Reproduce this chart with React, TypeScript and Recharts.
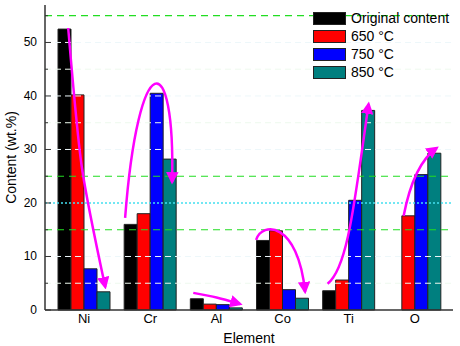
import React from 'react';
import { BarChart, Bar, XAxis, YAxis, ReferenceLine } from 'recharts';

const elements = ['Ni', 'Cr', 'Al', 'Co', 'Ti', 'O'];
const original = [52.5, 16.0, 2.1, 13.0, 3.6, 0];
const t650 = [40.2, 18.0, 1.1, 14.8, 5.6, 17.6];
const t750 = [7.7, 40.5, 1.0, 3.8, 20.5, 25.3];
const t850 = [3.4, 28.2, 0.4, 2.2, 37.3, 29.3];

const seriesNames = ['Original content', '650 °C', '750 °C', '850 °C'];
const seriesKeys = ['original', 't650', 't750', 't850'];
const seriesColors = ['#000000', '#ff0000', '#0000ff', '#007f7f'];

const yTicks = [0, 5, 10, 15, 20, 25, 30, 35, 40, 45, 50, 55];

// trend arrows, points as [category position, value]
const arrows = [
  [[-0.24, 52.7], [-0.06, 26.2], [-0.06, 26.2], [0.32, 4.3]],
  [[0.62, 17.2], [0.82, 49.5], [1.38, 49.5], [1.33, 23.9]],
  [[1.65, 3.2], [2.0, 2.4], [2.0, 2.4], [2.36, 1.1]],
  [[2.6, 13.1], [2.69, 16.6], [3.23, 16.6], [3.34, 3.4]],
  [[3.68, 4.9], [3.99, 7.9], [4.09, 20.6], [4.3, 38.5]],
  [[4.83, 17.6], [4.92, 23.4], [5.07, 28.0], [5.33, 30.3]],
];

const data = elements.map((el, i) => ({
  element: el,
  original: original[i],
  t650: t650[i],
  t750: t750[i],
  t850: t850[i],
}));

const W = 460;
const H = 346;
const FONT = '"Liberation Sans", Arial, sans-serif';
const PLOT_LEFT = 45;
const PLOT_TOP = 5;
const PLOT_RIGHT = 453;
const PLOT_BOTTOM = 310;
const PAD_L = 6;
const PAD_R = 5;
const Y_MAX = 57;

const band = (PLOT_RIGHT - PLOT_LEFT - PAD_L - PAD_R) / elements.length;
const px = (c: number) => PLOT_LEFT + PAD_L + band * (c + 0.5);
const py = (v: number) => PLOT_BOTTOM - (v / Y_MAX) * (PLOT_BOTTOM - PLOT_TOP);

const YTick = (props: any) => {
  const { x, y, payload } = props;
  const major = payload.value % 10 === 0;
  return (
    <g>
      <line x1={PLOT_LEFT} x2={PLOT_LEFT + (major ? 6 : 3)} y1={y} y2={y} stroke="#333" />
      {major && (
        <text x={x} y={y} dy={4} textAnchor="end" fontSize={12} fill="#000" fontFamily={FONT}>
          {payload.value}
        </text>
      )}
    </g>
  );
};

const gridFaint = [5, 10, 30, 35, 40, 45, 50];

export default function App() {
  return (
    <div style={{ position: 'absolute', left: 0, top: 0, width: W, height: H, background: '#fff', fontFamily: FONT }}>
      <BarChart
        width={W}
        height={H}
        data={data}
        margin={{ top: PLOT_TOP, right: W - PLOT_RIGHT, bottom: 0, left: 0 }}
        barSize={13}
        barGap={0}
      >
        <XAxis
          dataKey="element"
          height={H - PLOT_BOTTOM}
          padding={{ left: PAD_L, right: PAD_R }}
          axisLine={{ stroke: '#333', strokeWidth: 1.5 }}
          tickLine={false}
          tickSize={0}
          tickMargin={4}
          tick={{ fontSize: 13, fill: '#000', fontFamily: FONT }}
          label={{ value: 'Element', position: 'insideBottom', offset: 3, fontSize: 14, fill: '#000', fontFamily: FONT }}
        />
        <XAxis xAxisId="top" dataKey="element" orientation="top" height={0} tick={false} tickLine={false}
          axisLine={{ stroke: '#555', strokeWidth: 2 }} />
        <YAxis
          width={PLOT_LEFT}
          domain={[0, Y_MAX]}
          ticks={yTicks}
          interval={0}
          axisLine={{ stroke: '#333', strokeWidth: 1.5 }}
          tickLine={false}
          tickSize={0}
          tickMargin={8}
          tick={<YTick />}
          label={{ value: 'Content (wt.%)', angle: -90, position: 'center', dx: -11, fontSize: 14, fill: '#000', fontFamily: FONT }}
        />
        <YAxis yAxisId="right" orientation="right" width={0} domain={[0, Y_MAX]} tick={false} tickLine={false}
          axisLine={{ stroke: '#555', strokeWidth: 1.5 }} />
        {gridFaint.map((v) => (
          <ReferenceLine key={v} y={v} stroke={v % 10 === 0 ? '#edf7fa' : '#eef9ee'} strokeDasharray="6 4" />
        ))}
        <ReferenceLine y={15} stroke="#22dd22" strokeDasharray="7 5" strokeWidth={1.2} />
        <ReferenceLine y={25} stroke="#22dd22" strokeDasharray="7 5" strokeWidth={1.2} />
        <ReferenceLine y={55} stroke="#22dd22" strokeDasharray="7 5" strokeWidth={1.2} />
        <ReferenceLine y={20} stroke="#44e0f0" strokeDasharray="2 2" strokeWidth={1.5} />
        {seriesKeys.map((k, i) => (
          <Bar key={k} dataKey={k} name={seriesNames[i]} fill={seriesColors[i]} stroke="#222" strokeWidth={1}
            isAnimationActive={false} />
        ))}
      </BarChart>

      <svg width={W} height={H} style={{ position: 'absolute', left: 0, top: 0, pointerEvents: 'none' }}>
        <defs>
          <marker id="head" viewBox="0 0 10 10" refX="8" refY="5" markerWidth="5" markerHeight="5" orient="auto">
            <path d="M0,0 L10,5 L0,10 z" fill="#ff00ff" />
          </marker>
        </defs>
        {arrows.map((a, i) => (
          <path
            key={i}
            d={`M${px(a[0][0])},${py(a[0][1])} C${px(a[1][0])},${py(a[1][1])} ${px(a[2][0])},${py(a[2][1])} ${px(a[3][0])},${py(a[3][1])}`}
            fill="none"
            stroke="#ff00ff"
            strokeWidth={2.5}
            markerEnd="url(#head)"
          />
        ))}
      </svg>

      <div style={{ position: 'absolute', left: 313, top: 9, fontSize: 14, color: '#000', lineHeight: '18px' }}>
        {seriesNames.map((n, i) => (
          <div key={n} style={{ display: 'flex', alignItems: 'center', height: 18 }}>
            <span style={{ display: 'inline-block', width: 31, height: 11, background: seriesColors[i], border: '1px solid #222', marginRight: 5 }} />
            <span>{n}</span>
          </div>
        ))}
      </div>
    </div>
  );
}
